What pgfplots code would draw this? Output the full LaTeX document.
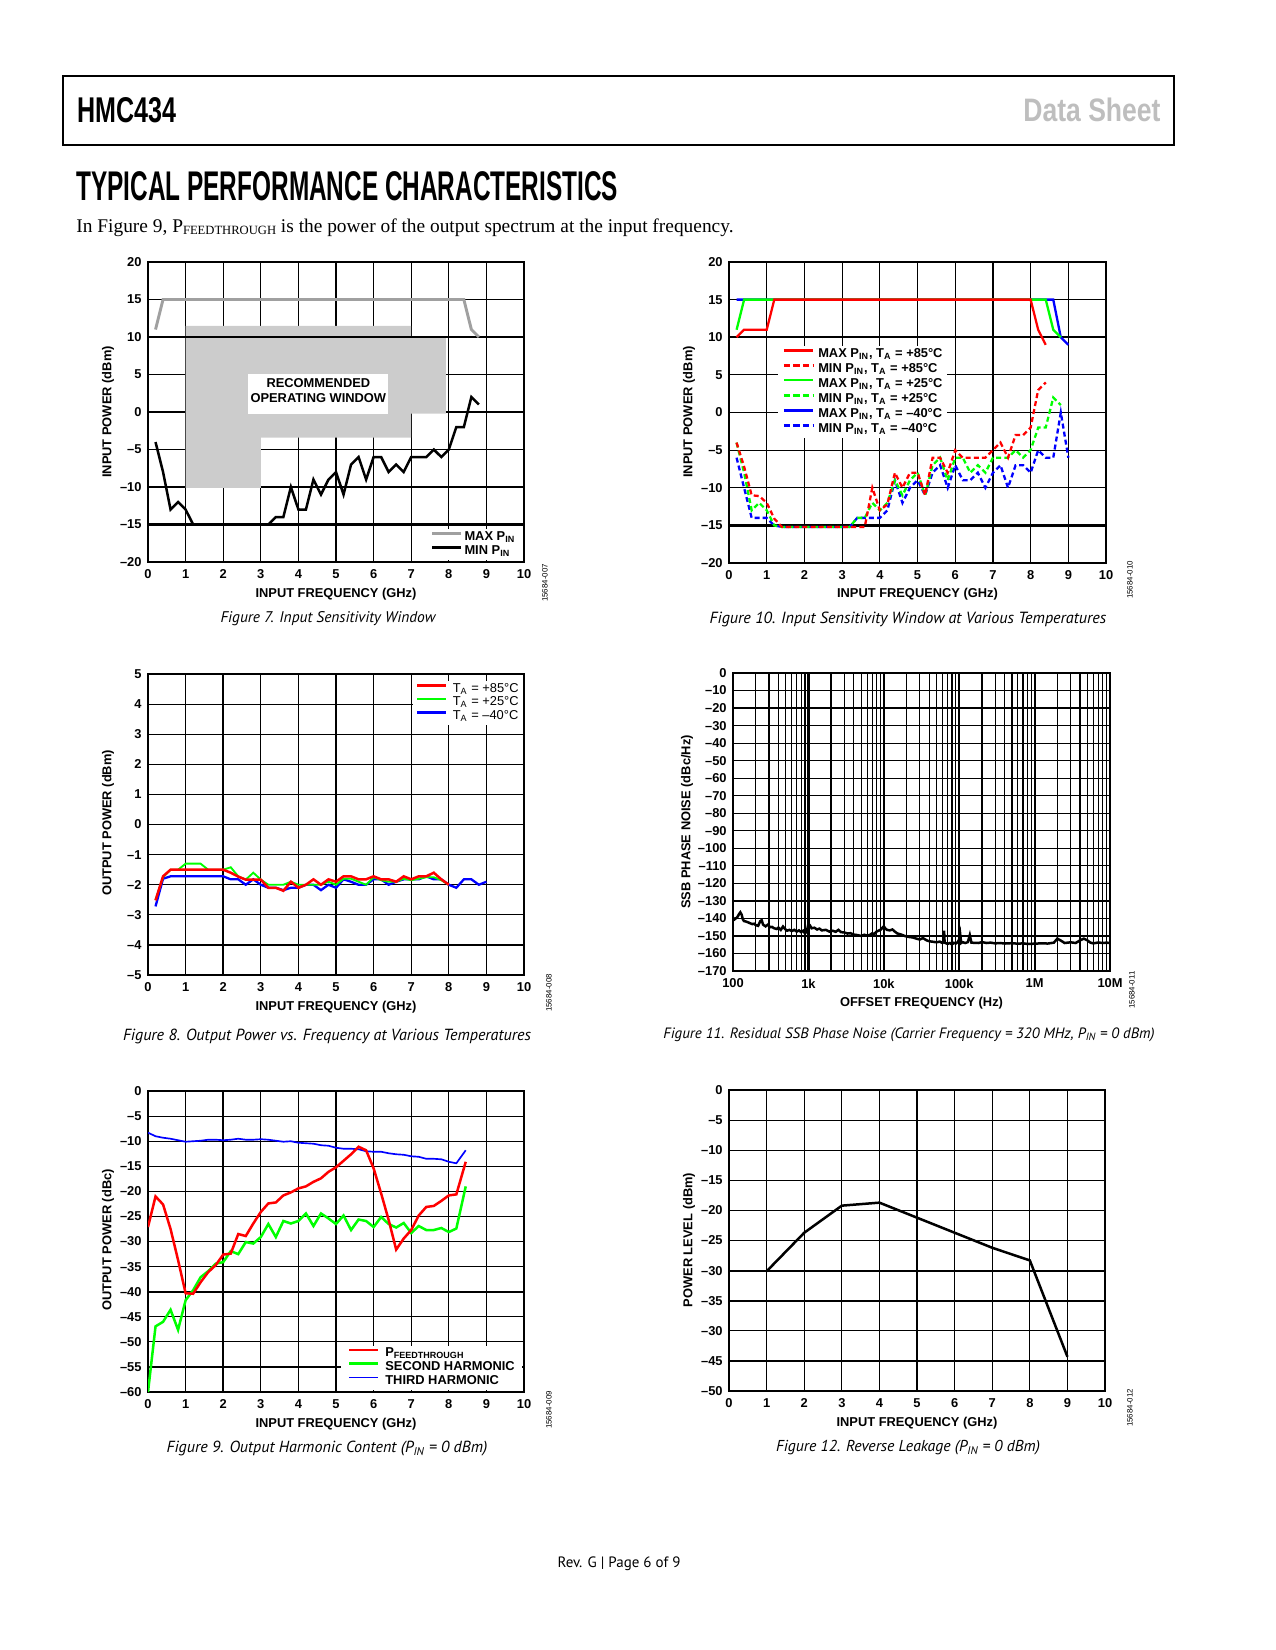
\documentclass[border=0pt]{standalone}
\usepackage{graphicx}
\usepackage{fontspec}
\setmainfont{Liberation Serif}
\setsansfont{Liberation Sans}
\newfontfamily\capfont{PT Sans}
\usepackage{pgfplots}
\pgfplotsset{compat=1.18}
\definecolor{regiongray}{RGB}{204,204,204}
\definecolor{maxgray}{RGB}{160,160,160}
\definecolor{hdrgray}{RGB}{190,190,190}
\definecolor{vred}{RGB}{255,0,0}
\definecolor{vgreen}{RGB}{0,255,0}
\definecolor{vblue}{RGB}{0,0,255}
\newcommand{\cf}{\sffamily\bfseries\fontsize{6.2}{7.2}\selectfont}
\newcommand{\rf}{\sffamily\fontsize{6.2}{7.2}\selectfont}
\newcommand{\idf}{\sffamily\fontsize{3.8}{4.2}\selectfont}
\newcommand{\m}{\textendash}
\pgfplotsset{hmc/.style={
  scale only axis,
  axis line style={line width=1bp},
  grid=major,
  grid style={black, line width=0.55bp},
  major grid style={black, line width=0.55bp},
  minor grid style={black, line width=0.55bp},
  major tick length=0pt, minor tick length=0pt,
  tick label style={font=\cf, inner sep=0pt},
  xticklabel style={anchor=north, yshift=-3.6bp},
  yticklabel style={anchor=east, xshift=-2.9bp},
  legend cell align=left,
},
lin10/.style={xmin=0, xmax=10, xtick={0,1,...,10}, xticklabels={0,1,2,3,4,5,6,7,8,9,10}},
}
\begin{document}
\begin{tikzpicture}
\begin{scope}[x=0.48bp,y=-0.48bp]
\path[use as bounding box] (0,0) rectangle (1275,1650);
\draw[line width=1.1bp] (63,76) rectangle (1174,145);
\node[anchor=south west, inner sep=0] at (77,123) {\resizebox{47.5bp}{12bp}{\sffamily\bfseries HMC434}};
\node[anchor=south west, inner sep=0, text=hdrgray] at (1023,122) {\resizebox{65.8bp}{11.3bp}{\sffamily\bfseries Data Sheet}};
\node[anchor=south west, inner sep=0] at (76,201) {\resizebox{260bp}{13.9bp}{\sffamily\bfseries TYPICAL PERFORMANCE CHARACTERISTICS}};
\node[anchor=base west, inner sep=0] at (76,232.5) {\resizebox{315.4bp}{!}{In Figure 9, P\raisebox{-0.25ex}{\fontsize{6.5}{7}\selectfont FEEDTHROUGH} is the power of the output spectrum at the input frequency.}};
\node at (619,1564) {\resizebox{59bp}{!}{\capfont Rev. G | Page 6 of 9}};
\end{scope}

% ---------------- Figure 7 ----------------
\begin{axis}[hmc, lin10, at={(71.04bp,-269.76bp)}, anchor=south west,
  width=180.48bp, height=144bp,
  ymin=-20, ymax=20, ytick={-20,-15,...,20},
  yticklabels={\m20,\m15,\m10,\m5,0,5,10,15,20},
  legend style={at={(axis description cs:0.989,0.113)}, anchor=north east, draw=none, fill=white, font=\cf, inner xsep=1.5bp, inner ysep=0.8bp, row sep=0.2bp, nodes={inner sep=0.5bp}, column sep=0.4bp},
  legend image code/.code={\draw[#1] (0bp,1.9bp) -- (13.9bp,1.9bp);},
]
\fill[fill=regiongray] (1,11.5) -- (7,11.5) -- (7,10) -- (7.92,10) -- (7.92,-0.2) -- (7,-0.2) -- (7,-3.4) -- (3,-3.4) -- (3,-10.1) -- (1,-10.1) -- cycle;
\fill[white] (2.67,-0.25) rectangle (6.38,5.05);
\node[font=\cf, align=center, inner sep=0] at (4.53,2.85) {\baselineskip=6.2bp RECOMMENDED\\OPERATING WINDOW};
\draw[line width=1.1bp] (0,10) -- (10,10);
\draw[line width=1.1bp] (0,-15) -- (10,-15);
\addplot[maxgray, line width=1.4bp] coordinates {(0.2,11) (0.4,15) (8.4,15) (8.6,11) (8.8,10)};
\addlegendentry{MAX P\textsubscript{IN}}
\addplot[black, line width=1.2bp] coordinates {(0.2,-4) (0.4,-8) (0.6,-13) (0.8,-12) (1.0,-13) (1.2,-15) (1.4,-15) (2.0,-15) (3.2,-15) (3.4,-14) (3.6,-14) (3.8,-10) (4.0,-13) (4.2,-13) (4.4,-9) (4.6,-11) (4.8,-9) (5.0,-8) (5.2,-11) (5.4,-7) (5.6,-6) (5.8,-9) (6.0,-6) (6.2,-6) (6.4,-8) (6.6,-7) (6.8,-8) (7.0,-6) (7.2,-6) (7.4,-6) (7.6,-5) (7.8,-6) (8.0,-5) (8.2,-2) (8.4,-2) (8.6,2) (8.8,1)};
\addlegendentry{MIN P\textsubscript{IN}}
\end{axis}

% ---------------- Figure 10 ----------------
\begin{axis}[hmc, lin10, at={(349.92bp,-270.24bp)}, anchor=south west,
  width=180.96bp, height=144.48bp,
  ymin=-20, ymax=20, ytick={-20,-15,...,20},
  yticklabels={\m20,\m15,\m10,\m5,0,5,10,15,20},
  legend style={at={(axis description cs:0.13,0.724)}, anchor=north west, draw=none, fill=white, font=\cf, inner xsep=1.8bp, inner ysep=0.8bp, row sep=0.4bp, nodes={inner sep=0.5bp}, column sep=1.4bp},
  legend image code/.code={\draw[#1] (0bp,1.9bp) -- (13.9bp,1.9bp);},
]
\draw[line width=1.1bp] (0,10) -- (10,10);
\draw[line width=1.1bp] (0,-15) -- (10,-15);
\addplot[vblue, line width=1.1bp, forget plot] coordinates {(0.2,15) (8.6,15) (8.8,10) (9.0,9)};
\addplot[vblue, line width=1.1bp, dash pattern=on 2.4bp off 1.5bp, forget plot] coordinates {(0.2,-6) (0.4,-10) (0.6,-14) (0.8,-14) (1.0,-14) (1.2,-15) (1.4,-15.2) (3.2,-15.2) (3.4,-14) (3.6,-14) (3.8,-14) (4.0,-14) (4.2,-13) (4.4,-9) (4.6,-12) (4.8,-10) (5.0,-9) (5.2,-11) (5.4,-8) (5.6,-7) (5.8,-10) (6.0,-7) (6.2,-9) (6.4,-9) (6.6,-8) (6.8,-10) (7.0,-8) (7.2,-7) (7.4,-10) (7.6,-7) (7.8,-7) (8.0,-8) (8.2,-5) (8.4,-6) (8.6,-6) (8.8,0) (9.0,-6)};
\addplot[vgreen, line width=1.1bp, forget plot] coordinates {(0.2,11) (0.4,15) (8.4,15) (8.6,11) (8.8,10)};
\addplot[vgreen, line width=1.1bp, dash pattern=on 2.4bp off 1.5bp, forget plot] coordinates {(0.2,-4) (0.4,-8) (0.6,-13) (0.8,-12) (1.0,-13) (1.2,-15) (1.4,-15.2) (3.2,-15.2) (3.4,-14) (3.6,-14) (3.8,-12) (4.0,-13) (4.2,-12) (4.4,-9) (4.6,-11) (4.8,-9) (5.0,-8) (5.2,-11) (5.4,-7) (5.6,-6) (5.8,-9) (6.0,-6) (6.2,-6) (6.4,-8) (6.6,-7) (6.8,-8) (7.0,-6) (7.2,-6) (7.4,-6) (7.6,-5) (7.8,-6) (8.0,-5) (8.2,-2) (8.4,-2) (8.6,2) (8.8,1)};
\addplot[vred, line width=1.1bp, forget plot] coordinates {(0.2,10) (0.4,11) (1.0,11) (1.2,15) (8.0,15) (8.2,11) (8.4,9)};
\addplot[vred, line width=1.1bp, dash pattern=on 2.4bp off 1.5bp, forget plot] coordinates {(0.2,-4) (0.4,-7.2) (0.6,-11) (0.8,-11.1) (1.0,-12) (1.2,-14.1) (1.4,-15.2) (3.6,-15.2) (3.8,-10) (4.0,-13) (4.2,-12.2) (4.4,-8) (4.6,-10) (4.8,-8) (5.0,-8) (5.2,-11) (5.4,-6) (5.6,-6) (5.8,-8) (6.0,-5) (6.2,-6) (6.4,-6) (6.6,-6) (6.8,-6) (7.0,-5) (7.2,-4) (7.4,-6) (7.6,-3) (7.8,-3) (8.0,-2) (8.2,3) (8.4,4)};
\addlegendimage{vred, line width=1.5bp}
\addlegendentry{MAX P\textsubscript{IN}, T\textsubscript{A} = +85°C}
\addlegendimage{vred, line width=1.5bp, dash pattern=on 3bp off 1.6bp}
\addlegendentry{MIN P\textsubscript{IN}, T\textsubscript{A} = +85°C}
\addlegendimage{vgreen, line width=1.1bp}
\addlegendentry{MAX P\textsubscript{IN}, T\textsubscript{A} = +25°C}
\addlegendimage{vgreen, line width=1.1bp, dash pattern=on 3bp off 1.6bp}
\addlegendentry{MIN P\textsubscript{IN}, T\textsubscript{A} = +25°C}
\addlegendimage{vblue, line width=1.5bp}
\addlegendentry{MAX P\textsubscript{IN}, T\textsubscript{A} = \m40°C}
\addlegendimage{vblue, line width=1.5bp, dash pattern=on 3bp off 1.6bp}
\addlegendentry{MIN P\textsubscript{IN}, T\textsubscript{A} = \m40°C}
\end{axis}

% ---------------- Figure 8 ----------------
\begin{axis}[hmc, lin10, at={(71.04bp,-468bp)}, anchor=south west,
  width=180.48bp, height=144.48bp,
  ymin=-5, ymax=5, ytick={-5,-4,...,5},
  yticklabels={\m5,\m4,\m3,\m2,\m1,0,1,2,3,4,5},
  legend style={at={(axis description cs:0.998,0.978)}, anchor=north east, draw=none, fill=white, font=\rf, inner xsep=1.6bp, inner ysep=0.6bp, row sep=0bp, nodes={inner sep=0.4bp}, column sep=2bp},
  legend image code/.code={\draw[#1] (0bp,1.9bp) -- (13.9bp,1.9bp);},
]
\draw[line width=1.1bp] (2,-5) -- (2,5);
\addplot[vblue, line width=1.1bp, forget plot] coordinates {(0.2,-2.72) (0.4,-1.8) (0.6,-1.72) (2.0,-1.72) (2.2,-1.82) (2.4,-1.82) (2.6,-2.0) (2.8,-1.82) (3.0,-2.0) (3.2,-2.1) (3.4,-2.1) (3.6,-2.18) (3.8,-2.1) (4.0,-2.1) (4.2,-2.0) (4.4,-2.0) (4.6,-2.18) (4.8,-2.0) (5.0,-2.1) (5.2,-1.82) (5.4,-1.9) (5.6,-2.0) (5.8,-2.0) (6.0,-1.82) (6.2,-1.82) (6.4,-2.0) (6.6,-1.9) (6.8,-1.82) (7.0,-1.82) (7.2,-1.82) (7.4,-1.72) (7.6,-1.82) (7.8,-1.82) (8.0,-2.0) (8.2,-2.1) (8.4,-1.82) (8.6,-1.82) (8.8,-2.0) (9.0,-1.9)};
\addplot[vgreen, line width=0.9bp, forget plot] coordinates {(0.2,-2.5) (0.4,-1.75) (0.6,-1.5) (0.8,-1.5) (1.0,-1.3) (1.4,-1.3) (1.6,-1.5) (2.0,-1.5) (2.2,-1.42) (2.4,-1.72) (2.6,-1.83) (2.8,-1.6) (3.0,-1.83) (3.2,-2.0) (3.4,-2.0) (3.6,-2.0) (3.8,-1.9) (4.0,-2.0) (4.2,-2.0) (4.4,-2.0) (4.6,-2.0) (4.8,-1.9) (5.0,-2.0) (5.2,-1.8) (5.4,-1.8) (5.6,-1.9) (5.8,-2.0) (6.0,-1.75) (6.2,-1.85) (6.4,-1.9) (6.6,-1.9) (6.8,-1.8) (7.0,-1.85) (7.2,-1.8) (7.4,-1.75) (7.6,-1.75) (7.8,-1.85) (8.0,-2.0)};
\addplot[vred, line width=1.2bp, forget plot] coordinates {(0.2,-2.52) (0.4,-1.72) (0.6,-1.5) (2.0,-1.5) (2.2,-1.6) (2.4,-1.73) (2.6,-1.83) (2.8,-1.83) (3.0,-1.83) (3.2,-2.1) (3.4,-2.1) (3.6,-2.2) (3.8,-1.9) (4.0,-2.1) (4.2,-2.0) (4.4,-1.82) (4.6,-2.0) (4.8,-1.82) (5.0,-1.9) (5.2,-1.72) (5.4,-1.72) (5.6,-1.82) (5.8,-1.82) (6.0,-1.72) (6.2,-1.82) (6.4,-1.82) (6.6,-1.9) (6.8,-1.72) (7.0,-1.82) (7.2,-1.72) (7.4,-1.72) (7.6,-1.6) (7.8,-1.82) (8.0,-2.0)};
\addlegendimage{vred, line width=1.2bp}
\addlegendentry{T\textsubscript{A} = +85°C}
\addlegendimage{vgreen, line width=1.1bp}
\addlegendentry{T\textsubscript{A} = +25°C}
\addlegendimage{vblue, line width=1.4bp}
\addlegendentry{T\textsubscript{A} = \m40°C}
\end{axis}

% ---------------- Figure 11 ----------------
\begin{axis}[hmc, at={(351.84bp,-466.08bp)}, anchor=south west,
  width=180.96bp, height=143.04bp,
  xmode=log, log basis x=10, xmin=100, xmax=1e7,
  xtick={100,1000,10000,100000,1000000,10000000},
  xticklabels={100,1k,10k,100k,1M,10M},
  minor xtick={200,300,400,500,600,700,800,900,2000,3000,4000,5000,6000,7000,8000,9000,20000,30000,40000,50000,60000,70000,80000,90000,200000,300000,400000,500000,600000,700000,800000,900000,2000000,3000000,4000000,5000000,6000000,7000000,8000000,9000000},
  grid=both,
  ymin=-170, ymax=0, ytick={-170,-160,...,0},
  yticklabels={\m170,\m160,\m150,\m140,\m130,\m120,\m110,\m100,\m90,\m80,\m70,\m60,\m50,\m40,\m30,\m20,\m10,0},
]
\draw[line width=1.1bp] (100,-20) -- (1e7,-20);
\draw[line width=1.1bp] (1000,-170) -- (1000,0);
\draw[line width=1.1bp] (2000,-170) -- (2000,0);
\draw[line width=1.1bp] (10000,-170) -- (10000,0);
\draw[line width=1.1bp] (100000,-170) -- (100000,0);
\draw[line width=1.1bp] (500000,-170) -- (500000,0);
\draw[line width=1.1bp] (1000000,-170) -- (1000000,0);
\addplot[black, line width=1.2bp] coordinates {(100,-139.5) (105,-140.5) (110,-139.8) (115,-139) (120,-137.5) (125,-136.5) (130,-137.8) (135,-140.5) (140,-141.5) (150,-141.8) (160,-142.3) (170,-142.8) (180,-143.2) (190,-143) (200,-143.8) (215,-144.2) (230,-141.5) (240,-141) (250,-143.5) (270,-144.5) (290,-143.5) (310,-145) (330,-144.8) (350,-145.6) (380,-146) (400,-145.2) (430,-146.5) (460,-144.6) (490,-146) (520,-147) (560,-146.5) (600,-147.2) (650,-146.5) (700,-147.5) (750,-146.8) (800,-147.8) (850,-147) (900,-148.5) (950,-147.5) (1000,-143) (1050,-144) (1100,-145.6) (1200,-145.3) (1300,-146.3) (1400,-145.8) (1500,-146.8) (1700,-146.5) (1900,-147.5) (2100,-147) (2300,-147.6) (2500,-146.5) (2700,-147.8) (3000,-148) (3300,-148.6) (3600,-148.4) (4000,-149.2) (4500,-149.5) (5000,-150) (5500,-149.3) (6000,-149.8) (6500,-149.4) (7000,-148.5) (7500,-148.8) (8000,-147.5) (8500,-147) (9000,-146.5) (9500,-145.5) (10000,-144.5) (10500,-145.8) (11000,-146.5) (12000,-146.8) (13000,-146.3) (14000,-147.5) (15000,-148.5) (17000,-149.2) (19000,-150) (21000,-150.5) (24000,-150.8) (27000,-151.5) (30000,-152) (33000,-151.2) (37000,-152.5) (40000,-153) (45000,-153.3) (50000,-153.6) (55000,-153.2) (60000,-154) (62000,-153.5) (63000,-147) (64000,-153.8) (70000,-154.5) (75000,-154) (80000,-154.8) (85000,-153.9) (90000,-154.3) (95000,-153.6) (100000,-152) (103000,-149) (106000,-154) (110000,-153.5) (120000,-154) (130000,-153.5) (138000,-149.5) (145000,-153.8) (160000,-153.9) (180000,-154) (200000,-153.5) (230000,-154) (260000,-153.8) (300000,-154.2) (350000,-154) (400000,-154.3) (500000,-154.1) (600000,-154.4) (700000,-154.2) (800000,-154.5) (1000000,-154.4) (1200000,-154.2) (1500000,-154.3) (1800000,-153.8) (2000000,-151.5) (2200000,-152.5) (2500000,-154) (3000000,-153.6) (3500000,-154) (4000000,-152.5) (4500000,-151.5) (5000000,-152.5) (5500000,-153.8) (6000000,-154.2) (7000000,-153.7) (8000000,-154) (9000000,-153.8) (10000000,-154)};
\end{axis}

% ---------------- Figure 9 ----------------
\begin{axis}[hmc, lin10, at={(71.04bp,-668.16bp)}, anchor=south west,
  width=180.48bp, height=144.48bp,
  ymin=-60, ymax=0, ytick={-60,-55,...,0},
  yticklabels={\m60,\m55,\m50,\m45,\m40,\m35,\m30,\m25,\m20,\m15,\m10,\m5,0},
  legend style={at={(axis description cs:0.997,0.007)}, anchor=south east, draw=none, fill=white, font=\cf, inner xsep=3.3bp, inner ysep=0.6bp, row sep=0bp, nodes={inner sep=0.4bp}, column sep=2.6bp},
  legend image code/.code={\draw[#1] (0bp,1.9bp) -- (13.6bp,1.9bp);},
]
\draw[line width=1.1bp] (2,-60) -- (2,0);
\draw[line width=1.1bp] (0,-40) -- (10,-40);
\addplot[vblue, line width=0.8bp, forget plot] coordinates {(0,-8.3) (0.2,-9.0) (0.4,-9.3) (0.6,-9.5) (0.8,-9.8) (1.0,-10.1) (1.2,-10.0) (1.4,-9.9) (1.6,-9.7) (1.8,-9.7) (2.0,-9.8) (2.2,-9.7) (2.4,-9.5) (2.6,-9.7) (2.8,-9.7) (3.0,-9.6) (3.2,-9.7) (3.4,-9.9) (3.6,-10.1) (3.8,-10.0) (4.0,-10.3) (4.2,-10.4) (4.4,-10.5) (4.6,-10.8) (4.8,-10.9) (5.0,-11.3) (5.2,-11.5) (5.4,-11.5) (5.6,-11.6) (5.8,-12.0) (6.0,-12.1) (6.2,-12.1) (6.4,-12.4) (6.6,-12.6) (6.8,-12.7) (7.0,-13.0) (7.2,-13.1) (7.4,-13.5) (7.6,-13.5) (7.8,-13.6) (8.0,-14.1) (8.2,-14.4) (8.45,-11.8)};
\addplot[vgreen, line width=1.2bp, forget plot] coordinates {(0,-60) (0.2,-46.9) (0.4,-46) (0.6,-43.6) (0.8,-47.6) (1.0,-41.7) (1.2,-39.7) (1.4,-37.1) (1.6,-35.9) (1.8,-34.4) (2.0,-34.1) (2.2,-31.9) (2.4,-32.5) (2.6,-30.1) (2.8,-30.4) (3.0,-29.1) (3.2,-26.5) (3.4,-29.1) (3.6,-25.9) (3.8,-26.4) (4.0,-25.9) (4.2,-24.4) (4.4,-26.9) (4.6,-24.4) (4.8,-25.4) (5.0,-26.5) (5.2,-24.8) (5.4,-27.7) (5.6,-25.6) (5.8,-25.9) (6.0,-27.1) (6.2,-25.1) (6.4,-26.5) (6.6,-27.2) (6.8,-26.3) (7.0,-28.3) (7.2,-26.9) (7.4,-27.7) (7.6,-27.7) (7.8,-27.3) (8.0,-28.1) (8.2,-27.4) (8.45,-19)};
\addplot[vred, line width=1.2bp, forget plot] coordinates {(0,-27.1) (0.2,-21) (0.4,-22.6) (0.6,-27.5) (0.8,-33.7) (1.0,-40.3) (1.2,-40.4) (1.4,-38.1) (1.6,-36.1) (1.8,-34.7) (2.0,-32.6) (2.2,-32.4) (2.4,-28.5) (2.6,-28.9) (2.8,-26.4) (3.0,-24.1) (3.2,-22.4) (3.4,-22.2) (3.6,-20.8) (3.8,-20.2) (4.0,-19.4) (4.2,-19.0) (4.4,-18.1) (4.6,-17.4) (4.8,-16.1) (5.0,-15.2) (5.2,-13.9) (5.4,-12.6) (5.6,-11.1) (5.8,-11.8) (6.0,-15.4) (6.2,-20.4) (6.4,-25.7) (6.6,-31.6) (6.8,-29.4) (7.0,-27.7) (7.2,-24.8) (7.4,-23.1) (7.6,-22.9) (7.8,-21.9) (8.0,-20.8) (8.2,-20.6) (8.45,-14.1)};
\addlegendimage{vred, line width=1.4bp}
\addlegendentry{P\textsubscript{FEEDTHROUGH}}
\addlegendimage{vgreen, line width=1.4bp}
\addlegendentry{SECOND HARMONIC}
\addlegendimage{vblue, line width=0.9bp}
\addlegendentry{THIRD HARMONIC}
\end{axis}

% ---------------- Figure 12 ----------------
\begin{axis}[hmc, lin10, at={(349.92bp,-667.68bp)}, anchor=south west,
  width=180.48bp, height=144.48bp,
  ymin=-50, ymax=0, ytick={-50,-45,...,0},
  yticklabels={\m50,\m45,\m30,\m35,\m30,\m25,\m20,\m15,\m10,\m5,0},
]
\draw[line width=1.1bp] (0,-30) -- (10,-30);
\draw[line width=1.1bp] (0,-35) -- (10,-35);
\addplot[black, line width=1.2bp] coordinates {(1,-30.1) (2,-23.7) (3,-19.2) (4,-18.7) (5,-21.2) (6,-23.7) (7,-26.2) (8,-28.3) (9,-44.3)};
\end{axis}

\begin{scope}[x=0.48bp,y=-0.48bp]
% axis labels
\node[font=\cf] at (336,594) {INPUT FREQUENCY (GHz)};
\node[font=\cf] at (917.5,594) {INPUT FREQUENCY (GHz)};
\node[font=\cf] at (336,1007.5) {INPUT FREQUENCY (GHz)};
\node[font=\cf] at (921.5,1003.5) {OFFSET FREQUENCY (Hz)};
\node[font=\cf] at (336,1424) {INPUT FREQUENCY (GHz)};
\node[font=\cf] at (917,1423.5) {INPUT FREQUENCY (GHz)};
\node[font=\cf, rotate=90] at (108,412) {INPUT POWER (dBm)};
\node[font=\cf, rotate=90] at (689,412) {INPUT POWER (dBm)};
\node[font=\cf, rotate=90] at (108,823) {OUTPUT POWER (dBm)};
\node[font=\cf, rotate=90] at (687,822) {SSB PHASE NOISE (dBc/Hz)};
\node[font=\cf, rotate=90] at (108,1240) {OUTPUT POWER (dBc)};
\node[font=\cf, rotate=90] at (689,1240) {POWER LEVEL (dBm)};
% ids
\node[font=\idf, rotate=90] at (545,583) {15684-007};
\node[font=\idf, rotate=90] at (1130,580) {15684-010};
\node[font=\idf, rotate=90] at (549,993) {15684-008};
\node[font=\idf, rotate=90] at (1132,990) {15684-011};
\node[font=\idf, rotate=90] at (549,1410) {15684-009};
\node[font=\idf, rotate=90] at (1130,1408) {15684-012};
% captions
\node at (328,619) {\resizebox{103.1bp}{!}{\capfont\itshape Figure 7. Input Sensitivity Window}};
\node at (908,619) {\resizebox{190.4bp}{!}{\capfont\itshape Figure 10. Input Sensitivity Window at Various Temperatures}};
\node at (327,1036) {\resizebox{195.8bp}{!}{\capfont\itshape Figure 8. Output Power vs. Frequency at Various Temperatures}};
\node at (909,1035) {\resizebox{235.7bp}{!}{\capfont\itshape Figure 11. Residual SSB Phase Noise (Carrier Frequency = 320 MHz, P\textsubscript{IN} = 0 dBm)}};
\node at (327,1449) {\resizebox{153.9bp}{!}{\capfont\itshape Figure 9. Output Harmonic Content (P\textsubscript{IN} = 0 dBm)}};
\node at (908,1448) {\resizebox{126.7bp}{!}{\capfont\itshape Figure 12. Reverse Leakage (P\textsubscript{IN} = 0 dBm)}};
\end{scope}
\end{tikzpicture}
\end{document}
